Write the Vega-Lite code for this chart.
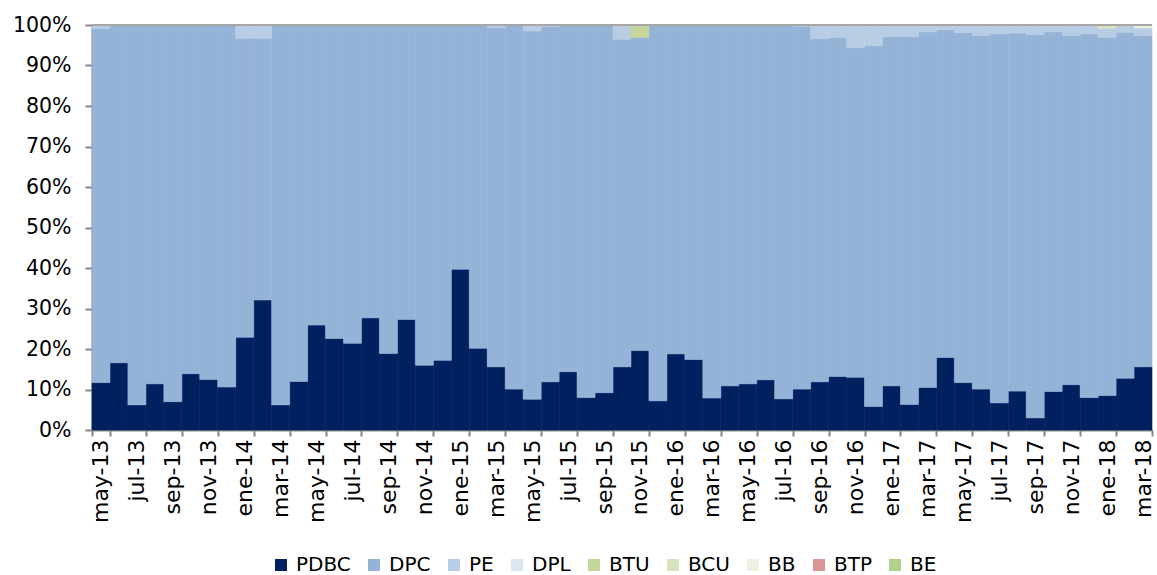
{
  "$schema": "https://vega.github.io/schema/vega-lite/v6.json",
  "autosize": {"type": "none"},
  "width": 1060,
  "height": 405,
  "padding": {"left": 92, "top": 25, "right": 5, "bottom": 145},
  "config": {"font": "DejaVu Sans", "view": {"stroke": null}},
  "data": {"values": [
    {"m":"may-13","s":"PDBC","v":11.7},{"m":"jun-13","s":"PDBC","v":16.6},{"m":"jul-13","s":"PDBC","v":6.2},{"m":"ago-13","s":"PDBC","v":11.4},{"m":"sep-13","s":"PDBC","v":7.0},{"m":"oct-13","s":"PDBC","v":13.9},{"m":"nov-13","s":"PDBC","v":12.5},{"m":"dic-13","s":"PDBC","v":10.6},
    {"m":"ene-14","s":"PDBC","v":22.9},{"m":"feb-14","s":"PDBC","v":32.1},{"m":"mar-14","s":"PDBC","v":6.2},{"m":"abr-14","s":"PDBC","v":12.0},{"m":"may-14","s":"PDBC","v":25.9},{"m":"jun-14","s":"PDBC","v":22.6},{"m":"jul-14","s":"PDBC","v":21.4},{"m":"ago-14","s":"PDBC","v":27.7},{"m":"sep-14","s":"PDBC","v":18.9},{"m":"oct-14","s":"PDBC","v":27.3},{"m":"nov-14","s":"PDBC","v":16.0},{"m":"dic-14","s":"PDBC","v":17.2},
    {"m":"ene-15","s":"PDBC","v":39.7},{"m":"feb-15","s":"PDBC","v":20.2},{"m":"mar-15","s":"PDBC","v":15.6},{"m":"abr-15","s":"PDBC","v":10.1},{"m":"may-15","s":"PDBC","v":7.6},{"m":"jun-15","s":"PDBC","v":11.9},{"m":"jul-15","s":"PDBC","v":14.4},{"m":"ago-15","s":"PDBC","v":8.0},{"m":"sep-15","s":"PDBC","v":9.2},{"m":"oct-15","s":"PDBC","v":15.6},{"m":"nov-15","s":"PDBC","v":19.6},{"m":"dic-15","s":"PDBC","v":7.2},
    {"m":"ene-16","s":"PDBC","v":18.8},{"m":"feb-16","s":"PDBC","v":17.4},{"m":"mar-16","s":"PDBC","v":7.9},{"m":"abr-16","s":"PDBC","v":10.9},{"m":"may-16","s":"PDBC","v":11.4},{"m":"jun-16","s":"PDBC","v":12.4},{"m":"jul-16","s":"PDBC","v":7.7},{"m":"ago-16","s":"PDBC","v":10.1},{"m":"sep-16","s":"PDBC","v":11.9},{"m":"oct-16","s":"PDBC","v":13.2},{"m":"nov-16","s":"PDBC","v":13.0},{"m":"dic-16","s":"PDBC","v":5.8},
    {"m":"ene-17","s":"PDBC","v":10.9},{"m":"feb-17","s":"PDBC","v":6.3},{"m":"mar-17","s":"PDBC","v":10.5},{"m":"abr-17","s":"PDBC","v":17.9},{"m":"may-17","s":"PDBC","v":11.7},{"m":"jun-17","s":"PDBC","v":10.1},{"m":"jul-17","s":"PDBC","v":6.7},{"m":"ago-17","s":"PDBC","v":9.6},{"m":"sep-17","s":"PDBC","v":3.0},{"m":"oct-17","s":"PDBC","v":9.5},{"m":"nov-17","s":"PDBC","v":11.2},{"m":"dic-17","s":"PDBC","v":8.0},
    {"m":"ene-18","s":"PDBC","v":8.5},{"m":"feb-18","s":"PDBC","v":12.8},{"m":"mar-18","s":"PDBC","v":15.6},

    {"m":"may-13","s":"DPC","v":87.4},{"m":"jun-13","s":"DPC","v":83.4},{"m":"jul-13","s":"DPC","v":93.8},{"m":"ago-13","s":"DPC","v":88.6},{"m":"sep-13","s":"DPC","v":93.0},{"m":"oct-13","s":"DPC","v":86.1},{"m":"nov-13","s":"DPC","v":87.5},{"m":"dic-13","s":"DPC","v":89.4},
    {"m":"ene-14","s":"DPC","v":73.8},{"m":"feb-14","s":"DPC","v":64.6},{"m":"mar-14","s":"DPC","v":93.8},{"m":"abr-14","s":"DPC","v":88.0},{"m":"may-14","s":"DPC","v":74.1},{"m":"jun-14","s":"DPC","v":77.4},{"m":"jul-14","s":"DPC","v":78.6},{"m":"ago-14","s":"DPC","v":72.3},{"m":"sep-14","s":"DPC","v":81.1},{"m":"oct-14","s":"DPC","v":72.7},{"m":"nov-14","s":"DPC","v":84.0},{"m":"dic-14","s":"DPC","v":82.8},
    {"m":"ene-15","s":"DPC","v":60.3},{"m":"feb-15","s":"DPC","v":79.8},{"m":"mar-15","s":"DPC","v":83.7},{"m":"abr-15","s":"DPC","v":89.9},{"m":"may-15","s":"DPC","v":90.9},{"m":"jun-15","s":"DPC","v":87.7},{"m":"jul-15","s":"DPC","v":85.6},{"m":"ago-15","s":"DPC","v":92.0},{"m":"sep-15","s":"DPC","v":90.8},{"m":"oct-15","s":"DPC","v":80.9},{"m":"nov-15","s":"DPC","v":77.3},{"m":"dic-15","s":"DPC","v":92.8},
    {"m":"ene-16","s":"DPC","v":81.2},{"m":"feb-16","s":"DPC","v":82.6},{"m":"mar-16","s":"DPC","v":92.1},{"m":"abr-16","s":"DPC","v":89.1},{"m":"may-16","s":"DPC","v":88.6},{"m":"jun-16","s":"DPC","v":87.6},{"m":"jul-16","s":"DPC","v":92.3},{"m":"ago-16","s":"DPC","v":89.6},{"m":"sep-16","s":"DPC","v":84.7},{"m":"oct-16","s":"DPC","v":83.7},{"m":"nov-16","s":"DPC","v":81.4},{"m":"dic-16","s":"DPC","v":89.1},
    {"m":"ene-17","s":"DPC","v":86.2},{"m":"feb-17","s":"DPC","v":90.8},{"m":"mar-17","s":"DPC","v":87.8},{"m":"abr-17","s":"DPC","v":80.9},{"m":"may-17","s":"DPC","v":86.4},{"m":"jun-17","s":"DPC","v":87.3},{"m":"jul-17","s":"DPC","v":91.1},{"m":"ago-17","s":"DPC","v":88.4},{"m":"sep-17","s":"DPC","v":94.6},{"m":"oct-17","s":"DPC","v":88.8},{"m":"nov-17","s":"DPC","v":86.2},{"m":"dic-17","s":"DPC","v":89.8},
    {"m":"ene-18","s":"DPC","v":88.4},{"m":"feb-18","s":"DPC","v":85.4},{"m":"mar-18","s":"DPC","v":81.8},

    {"m":"may-13","s":"PE","v":0.9},{"m":"ene-14","s":"PE","v":3.3},{"m":"feb-14","s":"PE","v":3.3},{"m":"mar-15","s":"PE","v":0.7},{"m":"may-15","s":"PE","v":1.5},{"m":"jun-15","s":"PE","v":0.4},{"m":"oct-15","s":"PE","v":3.5},
    {"m":"ago-16","s":"PE","v":0.3},{"m":"sep-16","s":"PE","v":3.4},{"m":"oct-16","s":"PE","v":3.1},{"m":"nov-16","s":"PE","v":5.6},{"m":"dic-16","s":"PE","v":5.1},
    {"m":"ene-17","s":"PE","v":2.9},{"m":"feb-17","s":"PE","v":2.9},{"m":"mar-17","s":"PE","v":1.7},{"m":"abr-17","s":"PE","v":1.2},{"m":"may-17","s":"PE","v":1.9},{"m":"jun-17","s":"PE","v":2.6},{"m":"jul-17","s":"PE","v":2.2},{"m":"ago-17","s":"PE","v":2.0},{"m":"sep-17","s":"PE","v":2.4},{"m":"oct-17","s":"PE","v":1.7},{"m":"nov-17","s":"PE","v":2.6},{"m":"dic-17","s":"PE","v":2.2},
    {"m":"ene-18","s":"PE","v":2.3},{"m":"feb-18","s":"PE","v":1.8},{"m":"mar-18","s":"PE","v":1.9},
    {"m":"nov-15","s":"BTU","v":3.1},{"m":"ene-18","s":"BCU","v":0.8},{"m":"mar-18","s":"BB","v":0.7}
  ]},
  "transform": [
    {"calculate": "indexof(['PDBC','DPC','PE','DPL','BTU','BCU','BB','BTP','BE'], datum.s)", "as": "orden"}
  ],
  "layer": [
    {
      "mark": {"type": "bar", "strokeWidth": 0.6},
      "encoding": {
        "x": {
          "field": "m", "type": "ordinal", "sort": null,
          "scale": {"paddingInner": 0, "paddingOuter": 0},
          "axis": {
            "title": null,
            "values": ["may-13","jul-13","sep-13","nov-13","ene-14","mar-14","may-14","jul-14","sep-14","nov-14","ene-15","mar-15","may-15","jul-15","sep-15","nov-15","ene-16","mar-16","may-16","jul-16","sep-16","nov-16","ene-17","mar-17","may-17","jul-17","sep-17","nov-17","ene-18","mar-18"],
            "tickBand": "extent",
            "labelAngle": -90,
            "labelFontSize": 22,
            "labelColor": "#000000",
            "labelPadding": 3,
            "labelBound": false,
            "tickSize": 6,
            "tickColor": "#868686",
            "tickWidth": 2,
            "domainColor": "#868686",
            "domainWidth": 2,
            "grid": false
          }
        },
        "y": {
          "field": "v", "type": "quantitative", "stack": "normalize",
          "axis": {
            "title": null,
            "values": [0,0.1,0.2,0.3,0.4,0.5,0.6,0.7,0.8,0.9,1],
            "format": ".0%",
            "labelFontSize": 20.5,
            "labelColor": "#000000",
            "labelPadding": 14,
            "tickSize": 7,
            "tickColor": "#868686",
            "tickWidth": 2,
            "domainColor": "#868686",
            "domainWidth": 2,
            "grid": false
          }
        },
        "color": {
          "field": "s", "type": "nominal",
          "scale": {
            "domain": ["PDBC","DPC","PE","DPL","BTU","BCU","BB","BTP","BE"],
            "range": ["#002060","#95B3D7","#B8CCE4","#DCE6F1","#C4D79B","#D8E4BC","#EBF1DE","#DA9694","#B3CF8E"]
          },
          "legend": {
            "title": null,
            "orient": "none",
            "legendX": 179,
            "legendY": 530,
            "direction": "horizontal",
            "symbolType": "square",
            "symbolSize": 144,
            "symbolStrokeWidth": 0,
            "labelFontSize": 20,
            "labelColor": "#000000",
            "labelOffset": 5,
            "columnPadding": 13
          }
        },
        "stroke": {
          "field": "s", "type": "nominal",
          "scale": {
            "domain": ["PDBC","DPC","PE","DPL","BTU","BCU","BB","BTP","BE"],
            "range": ["#002060","#95B3D7","#B8CCE4","#DCE6F1","#C4D79B","#D8E4BC","#EBF1DE","#DA9694","#B3CF8E"]
          },
          "legend": null
        },
        "order": {"field": "orden", "type": "quantitative", "sort": "ascending"}
      }
    },
    {
      "mark": {"type": "rule", "color": "#A6A6A6", "strokeWidth": 2},
      "encoding": {"y": {"datum": 1}}
    }
  ]
}
